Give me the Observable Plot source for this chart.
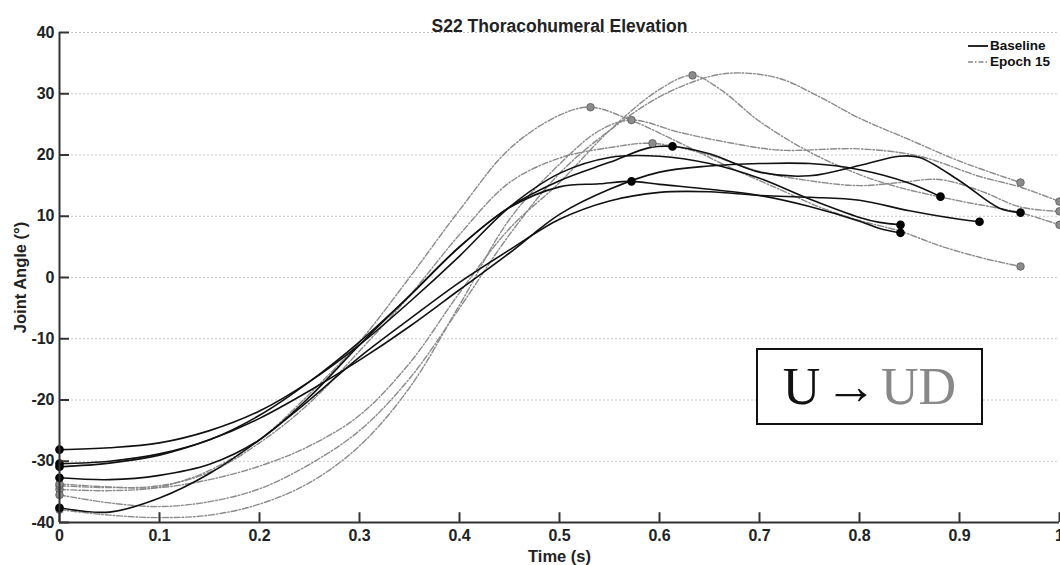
<!DOCTYPE html>
<html>
<head>
<meta charset="utf-8">
<script src="https://cdn.jsdelivr.net/npm/d3@7"></script>
<script src="https://cdn.jsdelivr.net/npm/@observablehq/plot@0.6"></script>
<style>
  html, body { margin: 0; padding: 0; background: #fff; }
  #wrap { position: relative; width: 1060px; height: 565px; font-family: "Liberation Sans", Arial, sans-serif; }
  #legend { position: absolute; left: 968px; top: 38px; font-size: 13.5px; font-weight: bold; color: #111; line-height: 16px; }
  #legend div { display: flex; align-items: center; height: 16px; }
  #legend svg { margin-right: 2px; }
  #box { position: absolute; left: 756px; top: 348px; width: 223px; height: 73px; border: 2px solid #111; background: #fff;
         font-family: "Liberation Serif", "Times New Roman", serif; font-size: 52px; display: flex; align-items: center; justify-content: center; color: #111; }
  #box .g { color: #888; }
</style>
</head>
<body>
<div id="wrap">
  <div id="chart"></div>
  <div id="legend">
    <div><svg width="20" height="4"><line x1="0" y1="2" x2="20" y2="2" stroke="#111" stroke-width="1.8"/></svg>Baseline</div>
    <div><svg width="20" height="4"><line x1="0" y1="2" x2="20" y2="2" stroke="#888" stroke-width="1.4" stroke-dasharray="5,2,1.5,2"/></svg>Epoch 15</div>
  </div>
  <div id="box"><span>U&#8202;&#8594;&#8202;</span><span class="g">UD</span></div>
</div>
<script>
// ---- Data (time in s, joint angle in degrees) ----
const xTicks = [0, 0.1, 0.2, 0.3, 0.4, 0.5, 0.6, 0.7, 0.8, 0.9, 1];
const yTicks = [-40, -30, -20, -10, 0, 10, 20, 30, 40];

// Baseline trials
const baseA = [[0,-30.4],[0.05,-30.0],[0.1,-28.8],[0.15,-26.5],[0.2,-22.5],[0.25,-17],[0.3,-10.5],[0.35,-3],[0.4,5],[0.45,11.5],[0.5,15.8],[0.55,18.8],[0.59,21.2],[0.613,21.4],[0.65,20.2],[0.7,17.2],[0.75,16.6],[0.8,18.3],[0.84,19.8],[0.86,19.6],[0.9,15.8],[0.94,11.3],[0.961,10.6]];
const baseB = [[0,-28.1],[0.05,-27.8],[0.1,-27],[0.15,-25],[0.2,-21.8],[0.25,-17],[0.3,-11],[0.35,-4],[0.4,3.5],[0.45,11.5],[0.5,17],[0.55,19.6],[0.6,19.8],[0.65,18.6],[0.7,16.2],[0.75,12.8],[0.8,9.8],[0.82,9.0],[0.841,8.6]];
const baseC = [[0,-32.7],[0.05,-33],[0.1,-32.3],[0.15,-30.5],[0.2,-26.5],[0.25,-19.5],[0.3,-11],[0.35,-3],[0.4,5],[0.45,11.4],[0.5,14.8],[0.54,15.3],[0.572,15.7],[0.6,15.2],[0.65,14.4],[0.7,13.4],[0.75,11.6],[0.8,9.2],[0.82,8.0],[0.841,7.3]];
const baseD = [[0,-30.9],[0.05,-30.3],[0.1,-29],[0.15,-26.5],[0.2,-23],[0.25,-18.5],[0.3,-13.5],[0.35,-8],[0.4,-2],[0.45,4],[0.5,10.3],[0.55,14.4],[0.6,17.2],[0.65,18.2],[0.7,18.6],[0.75,18.6],[0.8,17.6],[0.85,15.4],[0.881,13.2]];
const baseE = [[0,-37.6],[0.05,-38.3],[0.1,-36],[0.15,-32],[0.2,-26.5],[0.25,-20],[0.3,-13],[0.35,-6.8],[0.4,-0.8],[0.45,4.5],[0.5,9.5],[0.55,12.5],[0.6,13.9],[0.65,14],[0.7,13.4],[0.75,13.1],[0.8,12.6],[0.85,10.9],[0.9,9.5],[0.92,9.1]];

// Epoch 15 trials
const epochA = [[0,-34.6],[0.05,-34.8],[0.1,-34.2],[0.15,-31.5],[0.2,-26.5],[0.25,-19],[0.3,-10.5],[0.35,0],[0.4,11],[0.45,21],[0.5,26.5],[0.531,27.8],[0.574,25.5],[0.62,22],[0.67,18],[0.72,14.4],[0.76,11.5],[0.8,9.3],[0.84,7.6],[0.88,5.2],[0.92,3.3],[0.961,1.8]];
const epochB = [[0,-34.0],[0.05,-34.3],[0.1,-34],[0.15,-31.8],[0.2,-27],[0.25,-20.5],[0.3,-12],[0.35,-3],[0.4,7],[0.45,15.5],[0.5,19.5],[0.55,21.2],[0.593,21.9],[0.65,20],[0.7,17.3],[0.75,15.8],[0.8,15],[0.84,15.5],[0.88,16],[0.92,14.2],[0.961,11.5],[1.0,10.8]];
const epochC = [[0,-37.9],[0.05,-38.8],[0.1,-39.2],[0.15,-38.8],[0.2,-37],[0.25,-33.5],[0.3,-27.5],[0.35,-18],[0.4,-4.5],[0.45,9.5],[0.5,18.5],[0.54,24],[0.572,25.7],[0.62,23.7],[0.67,22],[0.72,20.8],[0.8,21],[0.86,19.8],[0.92,16.5],[0.96,14.8],[1.0,12.4]];
const epochD = [[0,-33.7],[0.05,-34.2],[0.1,-34.3],[0.15,-33],[0.2,-30.8],[0.25,-27.5],[0.3,-22.5],[0.35,-14],[0.4,-2.5],[0.45,8],[0.5,15.5],[0.55,24],[0.6,30.7],[0.633,33],[0.66,30.8],[0.7,25.5],[0.75,20.5],[0.8,16.8],[0.84,14.7],[0.9,12.5],[0.96,10.6],[1.0,8.6]];
const epochE = [[0,-35.5],[0.05,-36.8],[0.1,-37.4],[0.15,-36.6],[0.2,-34.5],[0.25,-30.5],[0.3,-25],[0.35,-16.5],[0.4,-5],[0.45,7],[0.5,17],[0.55,24],[0.6,29.5],[0.65,32.8],[0.68,33.4],[0.72,32.5],[0.76,29.5],[0.8,26],[0.85,22.5],[0.9,19],[0.961,15.5]];

// Marked events (mid-trial markers)
const baseMarks = [[0.572,15.7],[0.613,21.4]];
const epochMarks = [[0.531,27.8],[0.572,25.7],[0.593,21.9],[0.633,33]];

const baseline = [baseA, baseB, baseC, baseD, baseE];
const epoch = [epochA, epochB, epochC, epochD, epochE];

// ---- Build tables ----
const rows = (series, group) => series.flatMap((s, i) => s.map(([t, v]) => ({t, v, id: group + i, group})));
const baseRows = rows(baseline, "b");
const epochRows = rows(epoch, "e");
const ends = (series) => series.flatMap(s => [s[0], s[s.length - 1]]).map(([t, v]) => ({t, v}));
const baseDots = ends(baseline).concat(baseMarks.map(([t, v]) => ({t, v})));
const epochDots = ends(epoch).concat(epochMarks.map(([t, v]) => ({t, v})));

const chart = Plot.plot({
  width: 1060,
  height: 565,
  marginTop: 32,
  marginBottom: 43,
  marginLeft: 59,
  marginRight: 1,
  style: {fontFamily: "Liberation Sans, Arial, sans-serif", background: "#fff", overflow: "visible"},
  x: {domain: [0, 1]},
  y: {domain: [-40, 40]},
  marks: [
    Plot.ruleY(yTicks, {stroke: "#c8c8c8", strokeDasharray: "2,2", strokeWidth: 1}),
    Plot.line(epochRows, {x: "t", y: "v", z: "id", stroke: "#8a8a8a", strokeWidth: 1.4, strokeDasharray: "6,2,1.5,2", curve: "catmull-rom"}),
    Plot.line(baseRows, {x: "t", y: "v", z: "id", stroke: "#111", strokeWidth: 1.6, curve: "catmull-rom"}),
    Plot.dot(epochDots, {x: "t", y: "v", r: 3.8, fill: "#8c8c8c", stroke: "#555", strokeWidth: 0.8}),
    Plot.dot(baseDots, {x: "t", y: "v", r: 3.6, fill: "#000", stroke: "#000"}),
    // axis lines and inward ticks
    Plot.ruleX([0], {y1: -40, y2: 40, stroke: "#333", strokeWidth: 2}),
    Plot.ruleY([-40], {x1: 0, x2: 1, stroke: "#333", strokeWidth: 2}),
    Plot.ruleY(yTicks, {x1: 0, x2: 0.01, stroke: "#333", strokeWidth: 2}),
    Plot.ruleX(xTicks, {y1: -40, y2: -38.4, stroke: "#333", strokeWidth: 2}),
    Plot.axisY(yTicks, {tickSize: 0, tickPadding: 5, fontSize: 16, fontWeight: "bold", fill: "#222", label: null, tickFormat: d => String(d)}),
    Plot.axisX(xTicks, {tickSize: 0, tickPadding: 7, fontSize: 16, fontWeight: "bold", fill: "#222", label: null, tickFormat: d => String(d)}),
    Plot.text(["Time (s)"], {frameAnchor: "bottom", lineAnchor: "middle", dy: 34, fontSize: 16.5, fontWeight: "bold", fill: "#222"}),
    Plot.text(["Joint Angle (°)"], {frameAnchor: "left", rotate: -90, textAnchor: "middle", dx: -39, fontSize: 16.5, fontWeight: "bold", fill: "#222"}),
    Plot.text(["S22 Thoracohumeral Elevation"], {frameAnchor: "top", dy: -13, fontSize: 17.5, fontWeight: "bold", fill: "#222"})
  ]
});
document.getElementById("chart").appendChild(chart);
</script>
</body>
</html>
